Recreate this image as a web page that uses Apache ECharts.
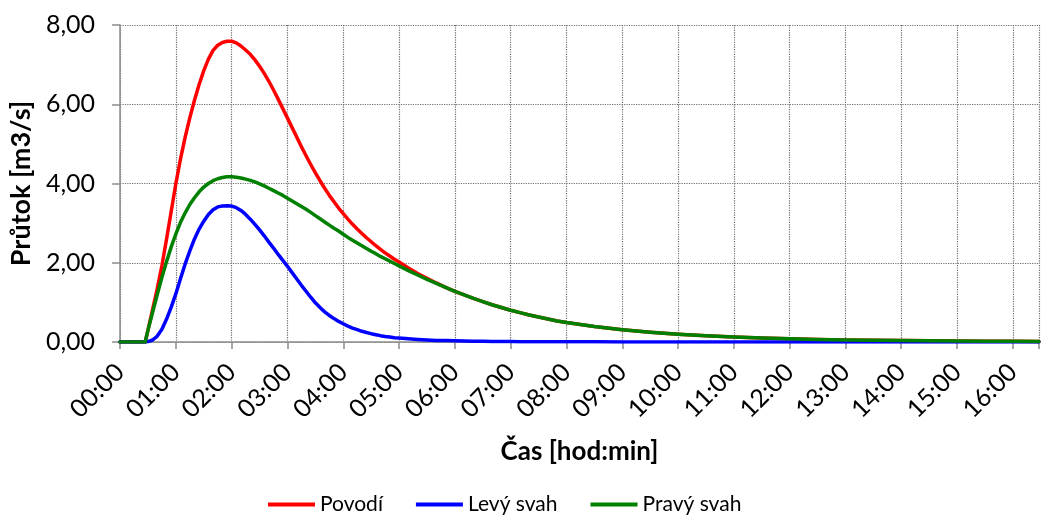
<!DOCTYPE html>
<html>
<head>
<meta charset="utf-8">
<script src="https://cdn.jsdelivr.net/npm/echarts@6/dist/echarts.min.js"></script>
<style>html,body{margin:0;padding:0;background:#fff}#c{width:1041px;height:515px}</style>
</head>
<body>
<div id="c"></div>
<script>
// time in minutes
const times = [0,27,30,35,40,45,50,55,60,65,70,75,80,85,90,95,100,105,110,115,120,125,130,135,140,145,150,155,160,165,170,175,180,185,190,195,200,205,210,215,220,225,230,235,240,245,250,255,260,265,270,275,280,285,290,295,300,310,320,330,340,350,360,370,380,390,400,410,420,430,440,450,460,470,480,510,540,570,600,630,660,690,720,750,780,810,840,870,900,930,960,988];
const povodi = [0,0,0.3,0.82,1.35,1.93,2.6,3.3,4.0,4.62,5.17,5.66,6.1,6.5,6.85,7.14,7.36,7.49,7.56,7.59,7.59,7.55,7.47,7.37,7.26,7.12,6.96,6.78,6.58,6.36,6.13,5.89,5.65,5.41,5.17,4.93,4.7,4.48,4.27,4.07,3.88,3.7,3.54,3.38,3.24,3.1,2.97,2.85,2.74,2.63,2.53,2.43,2.34,2.25,2.17,2.09,2.02,1.87,1.73,1.61,1.49,1.38,1.28,1.19,1.1,1.02,0.94,0.87,0.8,0.74,0.68,0.63,0.58,0.53,0.49,0.39,0.31,0.245,0.195,0.155,0.125,0.1,0.08,0.065,0.052,0.042,0.035,0.029,0.024,0.02,0.017,0.015];
const levySvah = [0,0,0.01,0.05,0.15,0.32,0.58,0.88,1.22,1.6,1.97,2.3,2.6,2.85,3.05,3.22,3.34,3.41,3.43,3.44,3.43,3.39,3.32,3.22,3.1,2.97,2.83,2.68,2.52,2.37,2.21,2.06,1.91,1.75,1.59,1.43,1.28,1.13,0.99,0.87,0.76,0.67,0.59,0.52,0.46,0.4,0.35,0.31,0.27,0.24,0.21,0.185,0.16,0.14,0.125,0.11,0.1,0.08,0.065,0.05,0.04,0.035,0.03,0.025,0.02,0.018,0.015,0.012,0.01,0.009,0.008,0.007,0.006,0.005,0.005,0.004,0.003,0.002,0.002,0.001,0.001,0.001,0,0,0,0,0,0,0,0,0,0];
const pravySvah = [0,0,0.3,0.75,1.2,1.63,2.03,2.4,2.73,3.02,3.26,3.47,3.64,3.79,3.91,4.0,4.07,4.12,4.15,4.17,4.17,4.16,4.14,4.11,4.08,4.04,3.99,3.94,3.88,3.82,3.76,3.7,3.63,3.56,3.49,3.42,3.35,3.27,3.19,3.11,3.03,2.95,2.87,2.8,2.72,2.64,2.57,2.5,2.43,2.36,2.29,2.23,2.16,2.1,2.04,1.98,1.92,1.8,1.69,1.58,1.48,1.38,1.28,1.19,1.1,1.02,0.94,0.87,0.8,0.74,0.68,0.63,0.58,0.53,0.49,0.39,0.31,0.245,0.195,0.155,0.125,0.1,0.08,0.065,0.052,0.042,0.035,0.029,0.024,0.02,0.017,0.015];
const seriesNames = ['Povodí','Levý svah','Pravý svah'];
const colors = ['#ff0000','#0000ff','#008000'];

const FONT = 'Lato';
function pairs(vals){ return times.map((t,i)=>[t, vals[i]]); }
function hhmm(v){ const h=Math.floor(v/60), m=Math.round(v%60); return String(h).padStart(2,'0')+':'+String(m).padStart(2,'0'); }

const chart = echarts.init(document.getElementById('c'), null, {renderer:'canvas'});
const mkSeries = (name, vals, color) => ({
  name, type:'line', data: pairs(vals), showSymbol:false, symbol:'none', smooth:false,
  lineStyle:{color, width:3.5, join:'round', cap:'round'}, itemStyle:{color}, animation:false
});
chart.setOption({
  animation:false,
  textStyle:{fontFamily:FONT},
  grid:{left:117, right:0, top:25, bottom:173, containLabel:false},
  legend:{
    top:489, left:263, icon:'rect', itemWidth:47, itemHeight:4, itemGap:33,
    textStyle:{fontFamily:FONT, fontSize:21, color:'#000'},
    data:seriesNames
  },
  xAxis:{
    type:'value', min:0, max:988, interval:60,
    name:'Čas [hod:min]', nameLocation:'middle', nameGap:97,
    nameTextStyle:{fontFamily:FONT, fontSize:26, fontWeight:'bold', color:'#000'},
    axisLine:{show:true, onZero:false, lineStyle:{color:'#8c8c8c', width:1.5}},
    axisTick:{show:true, length:7, lineStyle:{color:'#8c8c8c', width:1.5}},
    axisLabel:{rotate:45, margin:26, fontFamily:FONT, fontSize:25, color:'#000',
      formatter:v => (v%60===0 ? hhmm(v) : '')},
    splitLine:{show:true, lineStyle:{color:'#6e6e6e', type:'dotted', width:1.2}}
  },
  yAxis:{
    type:'value', min:0, max:8, interval:2,
    name:'Průtok [m3/s]', nameLocation:'middle', nameGap:81,
    nameTextStyle:{fontFamily:FONT, fontSize:27, fontWeight:'bold', color:'#000'},
    axisLine:{show:true, lineStyle:{color:'#8c8c8c', width:1.5}},
    axisTick:{show:true, length:8, lineStyle:{color:'#8c8c8c', width:1.5}},
    axisLabel:{margin:25, fontFamily:FONT, fontSize:25, color:'#000',
      formatter:v => v.toFixed(2).replace('.',',')},
    splitLine:{show:true, lineStyle:{color:'#6e6e6e', type:'dotted', width:1.2}}
  },
  series:[
    mkSeries(seriesNames[0], povodi, colors[0]),
    mkSeries(seriesNames[1], levySvah, colors[1]),
    mkSeries(seriesNames[2], pravySvah, colors[2])
  ]
});
</script>
</body>
</html>
